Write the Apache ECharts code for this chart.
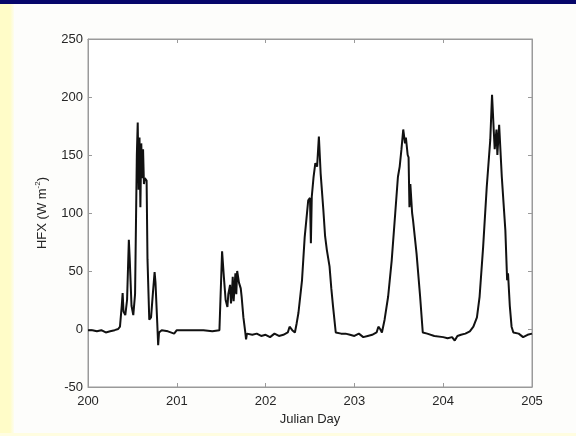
<!DOCTYPE html>
<html><head><meta charset="utf-8">
<script src="https://cdn.jsdelivr.net/npm/echarts@6/dist/echarts.min.js"></script>
<style>
html,body{margin:0;padding:0;width:576px;height:436px;overflow:hidden;background:#fdfdfb;}
#bar{position:absolute;left:0;top:0;width:576px;height:4px;background:#06066a;}
#strip{position:absolute;left:0;top:4px;width:14px;height:432px;background:linear-gradient(to right,#fffcc8 0,#fffcc8 10px,#fdfdf0 14px);}
#bot{position:absolute;left:0;top:433px;width:576px;height:3px;background:#fffde0;}
#c{position:absolute;left:0;top:0;width:576px;height:436px;}
</style></head>
<body>
<div id="bar"></div><div id="strip"></div><div id="bot"></div>
<div id="c"></div>
<script>
const xTicks = [200, 201, 202, 203, 204, 205];
const yTicks = [-50, 0, 50, 100, 150, 200, 250];
const days = [200.00,200.05,200.10,200.15,200.20,200.22,200.25,200.30,200.34,200.36,200.38,200.39,200.40,200.42,200.44,200.46,200.47,200.49,200.51,200.53,200.55,200.56,200.57,200.58,200.59,200.60,200.61,200.62,200.63,200.64,200.66,200.67,200.69,200.71,200.73,200.75,200.76,200.78,200.79,200.80,200.83,200.90,200.97,201.00,201.10,201.20,201.30,201.40,201.48,201.50,201.51,201.53,201.55,201.57,201.58,201.60,201.61,201.62,201.63,201.64,201.66,201.67,201.68,201.70,201.72,201.73,201.75,201.77,201.78,201.79,201.85,201.90,201.95,202.00,202.05,202.10,202.15,202.20,202.25,202.27,202.30,202.33,202.35,202.37,202.41,202.44,202.46,202.48,202.50,202.51,202.52,202.54,202.56,202.58,202.60,202.61,202.62,202.65,202.67,202.69,202.72,202.74,202.76,202.79,202.85,202.90,202.95,203.00,203.05,203.10,203.15,203.20,203.25,203.27,203.29,203.31,203.34,203.38,203.42,203.46,203.49,203.51,203.53,203.55,203.57,203.58,203.60,203.61,203.62,203.63,203.65,203.66,203.70,203.74,203.77,203.82,203.90,204.00,204.05,204.10,204.13,204.16,204.20,204.25,204.30,204.34,204.38,204.41,204.45,204.49,204.53,204.55,204.57,204.58,204.60,204.61,204.63,204.66,204.70,204.72,204.73,204.75,204.77,204.79,204.85,204.90,204.95,205.00];
const hfx = [-1,-1,-2,-1,-3,-4,-2,-1,0,2,20,31,15,12,25,77,60,20,12,30,150,178,120,165,105,160,130,155,125,130,128,60,8,10,30,49,40,5,-14,-3,-1,-2,-4,-1,-1,-1,-1,-2,-1,0,67,45,25,19,30,38,22,30,45,24,48,30,50,40,35,28,10,-2,-9,-4,-5,-4,-6,-5,-7,-4,-6,-5,-3,2,-1,-3,5,14,42,79,95,111,113,74,114,131,143,140,166,150,134,103,80,68,54,35,19,-3,-4,-4,-5,-6,-4,-7,-6,-5,-3,2,0,-3,8,28,59,100,131,140,155,172,160,165,150,148,105,125,100,94,65,28,-3,-4,-6,-7,-8,-7,-10,-6,-5,-4,-2,2,10,28,71,122,163,202,170,155,172,150,176,131,85,42,48,20,2,-3,-4,-7,-5,-4];

const series = days.map((d, i) => [d, hfx[i]]);
const chart = echarts.init(document.getElementById('c'), null, {renderer: 'canvas'});
const lab = {color: '#262626', fontSize: 13, fontFamily: 'Liberation Sans, Arial, sans-serif'};
const axLine = {show: true, onZero: false, lineStyle: {color: '#9a9a9a', width: 1}};
const tick = {show: true, inside: true, length: 4, lineStyle: {color: '#9a9a9a'}};
chart.setOption({
  animation: false,
  backgroundColor: 'transparent',
  grid: {left: 88, right: 44, top: 39, bottom: 49, show: true, backgroundColor: '#ffffff', borderColor: '#9a9a9a', borderWidth: 1},
  xAxis: [{
    type: 'value', min: xTicks[0], max: xTicks[xTicks.length - 1], interval: 1,
    axisLine: axLine, axisTick: tick, splitLine: {show: false},
    axisLabel: Object.assign({margin: 8}, lab),
    name: 'Julian Day', nameLocation: 'middle', nameGap: 25,
    nameTextStyle: {color: '#262626', fontSize: 13, fontFamily: 'Liberation Sans, Arial, sans-serif'}
  }, {
    type: 'value', position: 'top', min: xTicks[0], max: xTicks[xTicks.length - 1], interval: 1,
    axisLine: axLine, axisTick: tick, axisLabel: {show: false}, splitLine: {show: false}
  }],
  yAxis: [{
    type: 'value', min: yTicks[0], max: yTicks[yTicks.length - 1], interval: 50,
    axisLine: axLine, axisTick: tick, splitLine: {show: false},
    axisLabel: Object.assign({margin: 5}, lab),
    name: 'HFX (W m{sup|-2})', nameLocation: 'middle', nameGap: 38, nameRotate: 90,
    nameTextStyle: {color: '#262626', fontSize: 13, fontFamily: 'Liberation Sans, Arial, sans-serif',
      rich: {sup: {fontSize: 8, verticalAlign: 'top', padding: [0, 0, 8, 0], color: '#262626'}}}
  }, {
    type: 'value', position: 'right', min: yTicks[0], max: yTicks[yTicks.length - 1], interval: 50,
    axisLine: axLine, axisTick: tick, axisLabel: {show: false}, splitLine: {show: false}
  }],
  series: [{
    type: 'line', data: series, showSymbol: false, symbol: 'none',
    lineStyle: {color: '#111111', width: 2}, z: 5
  }]
});
</script>
</body></html>
